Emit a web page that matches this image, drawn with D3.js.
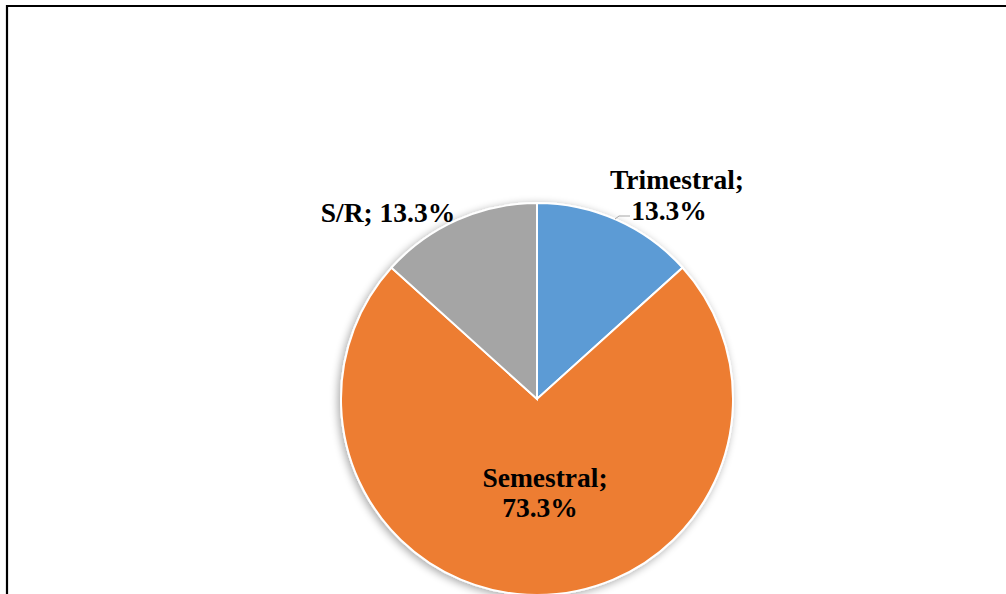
<!DOCTYPE html>
<html>
<head>
<meta charset="utf-8">
<script src="https://cdn.jsdelivr.net/npm/d3@7"></script>
<style>
  html, body { margin: 0; padding: 0; background: #fff; }
  svg { display: block; }
</style>
</head>
<body>
<svg id="chart" width="1006" height="594"></svg>
<script>
// data
var categories = ["Trimestral", "Semestral", "S/R"];
var values = [13.3, 73.3, 13.3];
var labels = ["13.3%", "73.3%", "13.3%"];
var colors = ["#5b9bd5", "#ed7d31", "#a5a5a5"];

var width = 1006, height = 594,
    cx = 537, cy = 399, radius = 196,
    fontSize = 27.5;

var svg = d3.select("#chart");

// frame (right and bottom edges are cut off)
svg.append("path")
    .attr("d", "M7,600 L7,6 L1010,6")
    .style("fill", "none")
    .style("stroke", "#000")
    .style("stroke-width", 2.2);

var defs = svg.append("defs");
var f = defs.append("filter").attr("id", "shadow")
    .attr("x", "-20%").attr("y", "-20%").attr("width", "140%").attr("height", "140%");
f.append("feGaussianBlur").attr("in", "SourceAlpha").attr("stdDeviation", 4).attr("result", "blur");
f.append("feOffset").attr("in", "blur").attr("dx", -2).attr("dy", 2).attr("result", "off");
f.append("feComponentTransfer").attr("in", "off").attr("result", "sh")
    .append("feFuncA").attr("type", "linear").attr("slope", 0.35);
var merge = f.append("feMerge");
merge.append("feMergeNode").attr("in", "sh");
merge.append("feMergeNode").attr("in", "SourceGraphic");

var pie = d3.pie().sort(null).value(function(d) { return d; });
var arcs = pie(values);
var arc = d3.arc().innerRadius(0).outerRadius(radius);

var g = svg.append("g").attr("transform", "translate(" + cx + "," + cy + ")");

g.append("g").attr("filter", "url(#shadow)")
    .selectAll("path")
    .data(arcs)
    .enter()
    .append("path")
    .attr("d", arc)
    .style("fill", function(d, i) { return colors[i]; })
    .style("stroke", "#fff")
    .style("stroke-width", 2);

// data label placement (offsets from pie centre, baseline of each line)
var labelPos = [
    { lines: [[categories[0] + ";", 140, -210], [labels[0], 132, -179]] },
    { lines: [[categories[1] + ";", 8, 88], [labels[1], 3, 118]] },
    { lines: [[categories[2] + "; " + labels[2], -149, -177]] }
];

// leader line for Trimestral
g.append("path")
    .attr("d", "M" + (615 - cx) + "," + (219 - cy) + " L" + (619 - cx) + "," + (216 - cy) + " L" + (630 - cx) + "," + (216 - cy))
    .style("fill", "none")
    .style("stroke", "#a6a6a6")
    .style("stroke-width", 1);

labelPos.forEach(function(p) {
    var t = g.append("text")
        .attr("text-anchor", "middle")
        .style("font-family", "'Liberation Serif', 'Times New Roman', serif")
        .style("font-weight", "bold")
        .style("font-size", fontSize + "px")
        .style("fill", "#000");
    p.lines.forEach(function(line) {
        t.append("tspan")
            .attr("x", line[1])
            .attr("y", line[2])
            .text(line[0]);
    });
});
</script>
</body>
</html>
